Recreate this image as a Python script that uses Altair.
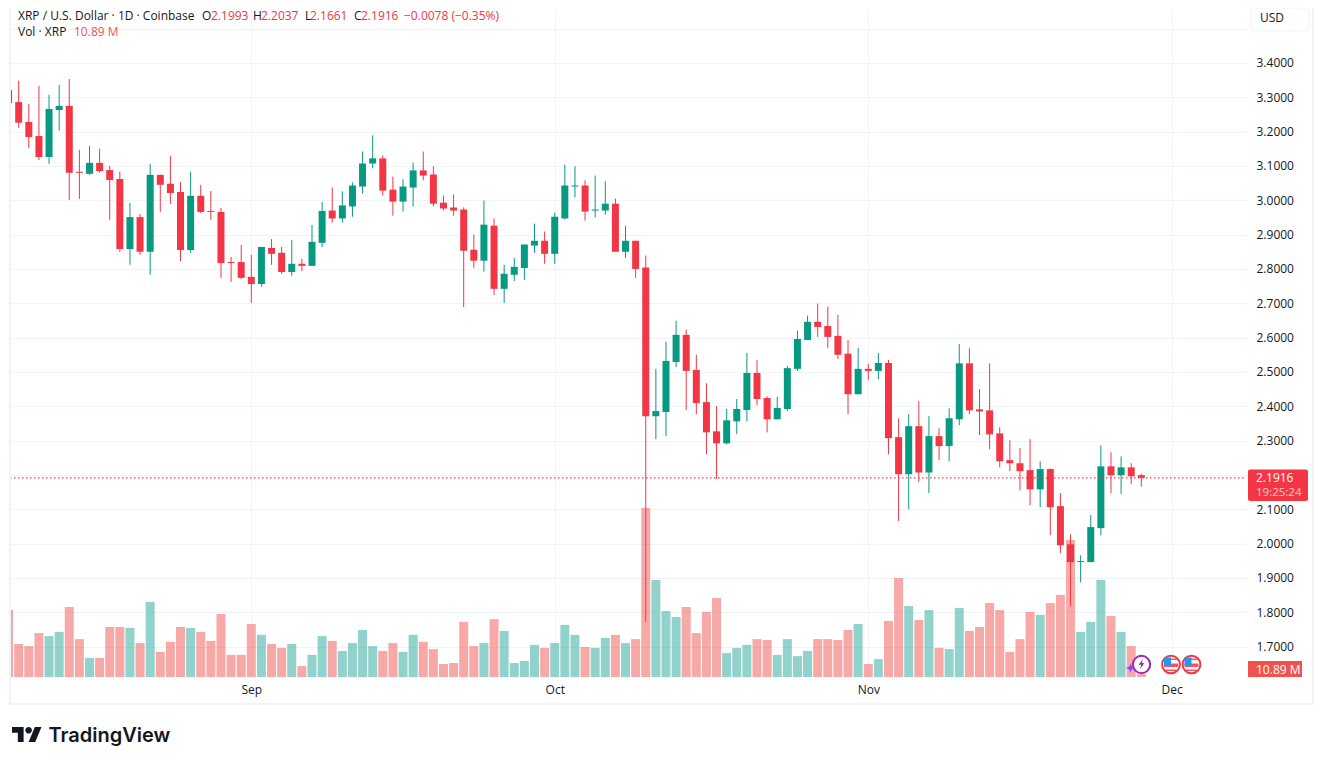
import altair as alt
import pandas as pd

opens = [3.321,3.286,3.228,3.187,3.126,3.263,3.275,3.083,3.077,3.109,3.088,3.062,2.858,2.951,2.850,3.074,3.048,3.024,2.855,3.013,2.969,2.966,2.820,2.820,
2.777,2.756,2.861,2.847,2.791,2.815,2.809,2.876,2.970,2.947,2.982,3.040,3.107,3.122,3.031,2.996,3.037,3.087,3.075,2.993,2.979,2.973,2.856,2.824,2.926,2.742,2.783,2.803,2.868,2.882,
2.844,2.947,3.040,3.043,2.970,2.970,2.990,2.850,2.882,2.804,2.371,2.383,2.529,2.608,2.506,2.412,2.327,2.292,2.356,2.389,2.497,2.424,2.362,2.392,2.509,2.593,2.646,2.634,2.605,2.553,2.435,
2.509,2.503,2.526,2.310,2.202,2.342,2.207,2.313,2.284,2.362,2.525,2.391,2.388,2.321,2.243,2.234,2.214,2.158,2.217,2.109,1.998,1.946,1.946,2.045,2.225,2.199,2.222,2.1993]
highs = [3.330,3.348,3.281,3.333,3.307,3.336,3.353,3.147,3.158,3.150,3.100,3.083,2.992,2.960,3.106,3.074,3.129,3.053,3.083,3.045,3.027,2.978,2.835,2.870,
2.841,2.864,2.887,2.864,2.884,2.829,2.928,2.995,3.037,3.026,3.052,3.142,3.189,3.131,3.069,3.061,3.110,3.142,3.099,3.014,3.017,2.979,2.900,2.999,2.947,2.812,2.832,2.871,2.932,2.909,
2.964,3.104,3.099,3.058,3.072,3.055,3.005,2.926,2.882,2.839,2.509,2.588,2.649,2.623,2.550,2.467,2.400,2.392,2.421,2.555,2.534,2.429,2.427,2.517,2.620,2.664,2.699,2.690,2.666,2.593,2.570,
2.523,2.555,2.535,2.365,2.377,2.415,2.371,2.336,2.394,2.581,2.569,2.450,2.525,2.339,2.301,2.278,2.304,2.240,2.219,2.147,2.027,1.966,2.083,2.286,2.266,2.254,2.234,2.2037]
lows = [3.270,3.211,3.152,3.117,3.106,3.202,3.001,3.004,3.074,3.080,2.943,2.850,2.812,2.841,2.783,2.966,2.989,2.823,2.847,2.963,2.943,2.774,2.762,2.771,
2.701,2.748,2.812,2.785,2.780,2.794,2.809,2.864,2.935,2.935,2.952,3.020,3.093,3.014,2.955,2.967,2.982,3.058,2.982,2.970,2.955,2.689,2.803,2.792,2.724,2.701,2.765,2.768,2.847,2.815,
2.815,2.944,3.008,2.941,2.950,2.958,2.850,2.832,2.774,1.772,2.304,2.313,2.514,2.389,2.377,2.260,2.189,2.289,2.319,2.356,2.403,2.324,2.362,2.386,2.503,2.593,2.602,2.570,2.538,2.377,2.435,
2.476,2.479,2.260,2.066,2.100,2.179,2.147,2.243,2.240,2.345,2.377,2.316,2.275,2.222,2.211,2.155,2.112,2.106,2.024,1.972,1.817,1.887,1.946,2.024,2.147,2.144,2.173,2.1661]
closes = [3.283,3.226,3.184,3.126,3.266,3.275,3.080,3.080,3.109,3.085,3.059,2.858,2.951,2.850,3.074,3.045,3.021,2.855,3.013,2.966,2.966,2.817,2.817,2.774,
2.756,2.864,2.844,2.791,2.815,2.809,2.879,2.969,2.947,2.985,3.043,3.107,3.122,3.028,2.996,3.040,3.087,3.072,2.990,2.976,2.970,2.853,2.824,2.929,2.742,2.786,2.806,2.871,2.882,2.844,
2.952,3.043,3.043,2.967,2.973,2.990,2.850,2.882,2.800,2.371,2.386,2.532,2.608,2.503,2.409,2.324,2.292,2.359,2.392,2.497,2.421,2.362,2.395,2.511,2.596,2.646,2.631,2.602,2.550,2.435,2.509,
2.503,2.526,2.307,2.202,2.342,2.207,2.313,2.284,2.365,2.525,2.388,2.385,2.318,2.240,2.234,2.211,2.158,2.217,2.106,1.995,1.946,1.949,2.048,2.225,2.199,2.222,2.196,2.1916]
volumes = [221,109,102,145,135,149,231,125,63,63,165,165,162,112,248,83,116,165,162,149,119,208,73,73,
175,139,109,96,109,36,73,135,119,86,112,155,102,86,112,83,139,116,92,43,46,182,102,112,191,152,46,53,106,96,
112,172,139,99,96,129,139,112,125,558,320,218,198,231,145,215,261,79,96,106,125,122,73,125,69,86,125,125,122,155,175,
43,59,185,327,234,188,221,96,92,228,152,165,244,221,83,125,215,205,244,271,452,149,182,320,201,149,102,10.89]
assert len(opens) == len(highs) == len(lows) == len(closes) == len(volumes) == 113

month_ticks = [24, 54, 85, 115]
month_names = ["Sep", "Oct", "Nov", "Dec"]
price_ticks = [1.7,1.8,1.9,2.0,2.1,2.2,2.3,2.4,2.5,2.6,2.7,2.8,2.9,3.0,3.1,3.2,3.3,3.4,3.5]

RED, GREEN = "#f23645", "#089981"
VRED, VGREEN = "#ef5350", "#26a69a"
INK = "#131722"
GRID = "#f0f3fa"
FONT = "Open Sans"
W, H = 1236, 669

df = pd.DataFrame({"i": range(113), "o": opens, "h": highs, "l": lows, "c": closes, "v": volumes})
df["up"] = df.c >= df.o
df["candle"] = df.up.map({True: GREEN, False: RED})
df["bar"] = df.up.map({True: VGREEN, False: VRED})
df["top"] = df[["o", "c"]].max(axis=1)
df["bot"] = df[["o", "c"]].min(axis=1)

label_map = "{" + ",".join(f"'{t}':'{n}'" for t, n in zip(month_ticks, month_names)) + "}"
xaxis = alt.Axis(values=month_ticks, labelExpr=f"{label_map}[datum.value]", title=None, grid=True, gridColor=GRID,
                 gridWidth=1, domain=False, ticks=False, labelFont=FONT, labelFontSize=12, labelColor=INK,
                 labelPadding=7, labelFontWeight=500, labelFlush=False)
xscale = alt.Scale(domain=[0.14, 122.35], nice=False, zero=False, padding=0)
yscale = alt.Scale(domain=[1.6114, 3.560], nice=False, zero=False, padding=0)
X = alt.X("i:Q", scale=xscale, axis=xaxis)
yaxis = alt.Axis(values=price_ticks, orient="right", title=None, grid=True, gridColor=GRID, gridWidth=1, domain=False,
                 ticks=False, labelFont=FONT, labelFontSize=12, labelColor=INK, labelPadding=10,
                 labelExpr="datum.value > 3.45 || (datum.value > 2.15 && datum.value < 2.25) ? '' : format(datum.value, '.4f')")

base = alt.Chart(df)
volume = base.mark_bar(size=9, opacity=0.5, clip=True).encode(
    x=X, y=alt.Y("v:Q", scale=alt.Scale(domain=[0, 2207.7], nice=False, padding=0), axis=None),
    color=alt.Color("bar:N", scale=None))
wicks = base.mark_rule(strokeWidth=1, clip=True).encode(
    x=X, y=alt.Y("h:Q", scale=yscale, axis=yaxis), y2="l:Q",
    color=alt.Color("candle:N", scale=None))
bodies = base.mark_bar(size=7, clip=True).encode(
    x=X, y=alt.Y("top:Q", scale=yscale, axis=None), y2="bot:Q",
    color=alt.Color("candle:N", scale=None))

one = alt.Data(values=[{"a": 1}])

def px(x):
    return x - 10

def py(y):
    return y - 8

def text(t, x, y, color=INK, size=12, weight=400, align="left", font=FONT, opacity=1.0):
    return alt.Chart(one).mark_text(text=t, align=align, baseline="middle", color=color, fontSize=size,
                                    fontWeight=weight, font=font, opacity=opacity).encode(
        x=alt.value(px(x)), y=alt.value(py(y)))

def box(x0, x1, y0, y1, fill, stroke=None, radius=0):
    kw = {"fill": fill, "cornerRadius": radius}
    if stroke:
        kw["stroke"] = stroke
    return alt.Chart(one).mark_rect(**kw).encode(
        x=alt.value(px(x0)), x2=alt.value(px(x1)), y=alt.value(py(y0)), y2=alt.value(py(y1)))

def glyph(path, x, y, size, fill, stroke=None, sw=0):
    kw = {"shape": path, "filled": True, "fill": fill, "size": size, "opacity": 1}
    if stroke:
        kw.update(stroke=stroke, strokeWidth=sw)
    return alt.Chart(one).mark_point(**kw).encode(x=alt.value(px(x)), y=alt.value(py(y)))

price_line = alt.Chart(pd.DataFrame({"p": [closes[-1]]})).mark_rule(
    strokeWidth=1.2, strokeDash=[1.5, 2.5], opacity=1).encode(
    y=alt.Y("p:Q", scale=yscale, axis=None),
    color=alt.value(RED),
    x=alt.value(0), x2=alt.value(W))

borders = [
    box(9, 11, 8, 705, GRID),
    box(9, 1314, 703, 705, GRID),
    box(1312, 1314, 8, 705, GRID),
]

header = [
    text("XRP / U.S. Dollar · 1D · Coinbase", 18, 16),
    text("O", 202, 16), text("2.1993", 211, 16, RED),
    text("H", 253, 16), text("2.2037", 261, 16, RED),
    text("L", 305, 16), text("2.1661", 310, 16, RED),
    text("C", 354, 16), text("2.1916", 361, 16, RED),
    text("−0.0078 (−0.35%)", 404, 16, RED),
    text("Vol · XRP", 18, 32),
    text("10.89 M", 74, 32, VRED),
]

right = [
    box(1251, 1309, 8, 31, "#ffffff", GRID, 4),
    text("USD", 1260, 18),
    box(1248, 1308, 469.5, 501, RED, None, 2),
    text("2.1916", 1256, 477.5, "#ffffff"),
    text("19:25:24", 1256, 493, "#ffffff", size=11.5, opacity=0.72),
    box(1248, 1302, 661, 677, VRED),
    text("10.89 M", 1256, 669.5, "#ffffff"),
]

CIRCLE = "circle"
BOLT = "M0.25,-0.95L-0.55,0.15L-0.05,0.15L-0.25,0.95L0.55,-0.2L0.05,-0.2Z"
SPARK = "M0,-1C0.1,-0.3 0.3,-0.1 1,0C0.3,0.1 0.1,0.3 0,1C-0.1,0.3 -0.3,0.1 -1,0C-0.3,-0.1 -0.1,-0.3 0,-1Z"
LOGO = "M14 22H7V11H0V4h14v18zM28 22h-8l7.5-18h8L28 22zM24 8a4 4 0 1 1-8 0a4 4 0 0 1 8 0z"

def flag(cx, cy=664.5):
    return [
        glyph(CIRCLE, cx, cy, 314, "#ffffff", RED, 2),
        box(cx - 7, cx + 7, cy - 1, cy + 2.5, "#f7525f"),
        box(cx - 6, cx + 6, cy + 5, cy + 6.5, "#f7525f"),
        box(cx - 5.5, cx + 7, cy - 6, cy - 4.5, "#f7525f"),
        box(cx - 7, cx, cy - 7, cy + 1, "#2196f3"),
    ]

icons = [
    glyph(CIRCLE, 1141.5, 664.5, 300, "#ffffff", "#9c27b0", 2),
    glyph(BOLT, 1141.5, 664, 110, "#9c27b0"),
    glyph(SPARK, 1130.5, 668, 110, "#7c4dff"),
] + flag(1171) + flag(1191.5)

logo = [
    glyph(LOGO, 12, 723.7, 2.76, INK),
    text("TradingView", 48.5, 735.5, INK, size=20, weight=600, font="Inter"),
]

chart = alt.layer(
    volume, wicks, bodies, price_line, *borders, *header, *right, *icons, *logo
).resolve_scale(y="independent").properties(
    width=W, height=H,
    autosize=alt.AutoSizeParams(type="none"),
    padding={"left": 2, "top": 0, "right": 68, "bottom": 73},
    background="#ffffff",
).configure_view(stroke=None)

chart.save("out.html", embed_options={"renderer": "svg", "actions": False})
